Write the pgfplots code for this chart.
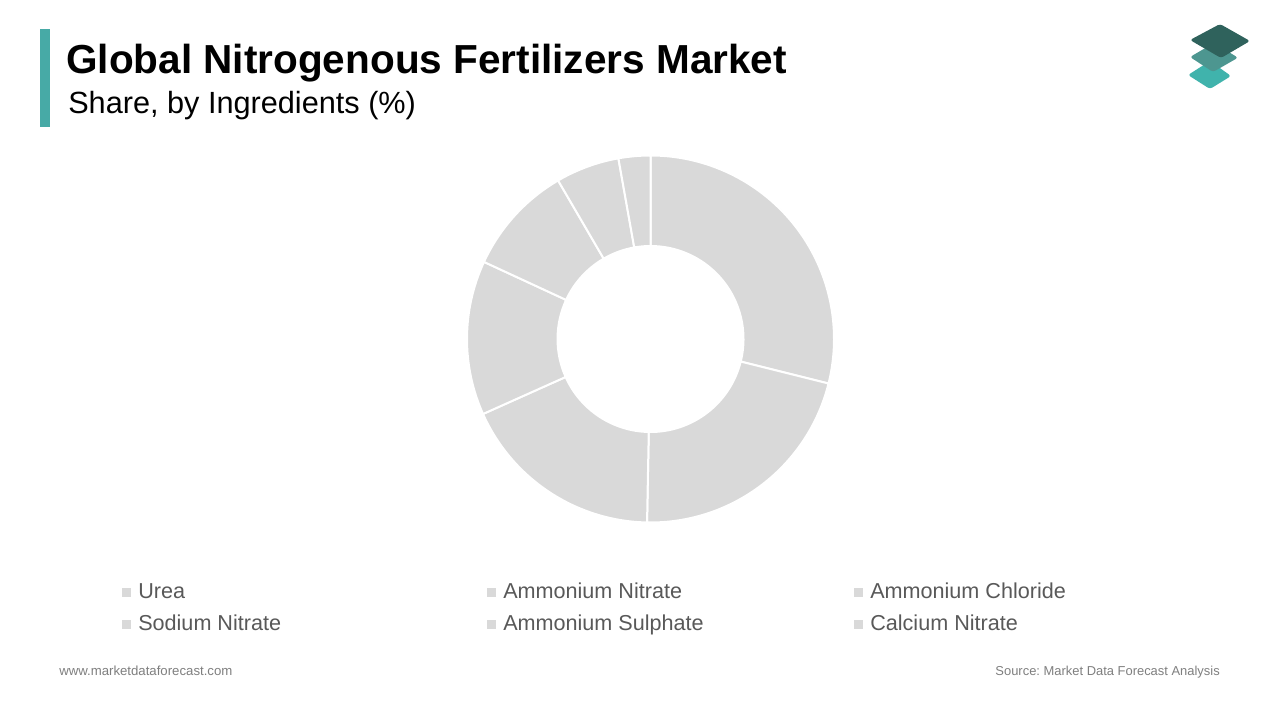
\documentclass[border=0pt]{standalone}
\usepackage{pgfplots}
\pgfplotsset{compat=1.18}
\usepackage{pgfplotstable}
\usepackage{fontspec}
\setmainfont{Liberation Sans}
\frenchspacing

\definecolor{slicegray}{HTML}{D9D9D9}
\definecolor{barteal}{HTML}{47AAA6}
\definecolor{legtext}{HTML}{595959}
\definecolor{foot}{HTML}{7F7F7F}
\definecolor{logodark}{HTML}{2F625C}
\definecolor{logomid}{HTML}{4D9690}
\definecolor{logolight}{HTML}{40B3AC}

% shares in percent, clockwise from 12 o'clock
\pgfplotstableread[col sep=comma]{
label,value
Urea,28.9
Ammonium Nitrate,21.4
Ammonium Chloride,18.0
Sodium Nitrate,13.6
Ammonium Sulphate,9.7
Calcium Nitrate,5.6
Others,2.8
}\shares

\def\Ro{183.5}
\def\Ri{93}

\begin{document}
\begin{tikzpicture}[x=0.75pt,y=-0.75pt]
  % page, 1 unit = 1 px of the reference
  \fill[white] (0,0) rectangle (1280,720);

  % header
  \fill[barteal] (40,29) rectangle (50,127);
  \node[anchor=base west,inner sep=0pt,font=\fontsize{30.4}{36}\selectfont\bfseries] at (66,74) {Global Nitrogenous Fertilizers Market};
  \node[anchor=base west,inner sep=0pt,font=\fontsize{23}{28}\selectfont] at (68,114) {Share, by Ingredients (\%)};

  % logo
  \fill[logolight,rounded corners=2pt] (1188,75) -- (1210,61) -- (1231,76) -- (1210,89) -- cycle;
  \fill[logomid,rounded corners=2pt] (1190,57) -- (1214,43) -- (1238,57.7) -- (1213,72) -- cycle;
  \fill[logodark,rounded corners=2pt] (1190,40) -- (1220,24) -- (1250,41) -- (1221,58) -- cycle;

  \begin{axis}[
      at={(487.875pt,-254.25pt)}, anchor=center,
      x=0.75pt, y=0.75pt,
      xmin=-200, xmax=200, ymin=-200, ymax=200,
      hide axis, clip=false,
    ]
    \pgfplotsextra{
      \pgfplotstablegetrowsof{\shares}
      \pgfmathtruncatemacro\nrows{\pgfplotsretval-1}
      \gdef\angstart{90}
      \foreach \i in {0,...,\nrows}{
        \pgfplotstablegetelem{\i}{value}\of\shares
        \pgfmathsetmacro\angend{\angstart-3.6*\pgfplotsretval}
        \filldraw[fill=slicegray,draw=white,line width=1.5pt,line join=miter]
          (axis cs:{\Ri*cos(\angstart)},{\Ri*sin(\angstart)})
          -- (axis cs:{\Ro*cos(\angstart)},{\Ro*sin(\angstart)})
          arc[start angle=\angstart,end angle=\angend,radius=\Ro*0.75pt]
          -- (axis cs:{\Ri*cos(\angend)},{\Ri*sin(\angend)})
          arc[start angle=\angend,end angle=\angstart,radius=\Ri*0.75pt]
          -- cycle;
        \xdef\angstart{\angend}
      }
    }
  \end{axis}

  % legend
  \foreach \mx/\my/\txt in {122/588/Urea, 487/588/Ammonium Nitrate, 854/588/Ammonium Chloride,
                            122/620/Sodium Nitrate, 487/620/Ammonium Sulphate, 854/620/Calcium Nitrate}{
    \fill[slicegray] (\mx,\my) rectangle ++(9,9);
    \node[anchor=base west,inner sep=0pt,text=legtext,font=\fontsize{16.2}{19}\selectfont] at (\mx+16,\my+10) {\txt};
  }

  % footer
  \node[anchor=base west,inner sep=0pt,text=foot,font=\fontsize{9.9}{12}\selectfont] at (59,675) {www.marketdataforecast.com};
  \node[anchor=base east,inner sep=0pt,text=foot,font=\fontsize{9.7}{12}\selectfont] at (1220,675) {Source: Market Data Forecast Analysis};
\end{tikzpicture}
\end{document}
